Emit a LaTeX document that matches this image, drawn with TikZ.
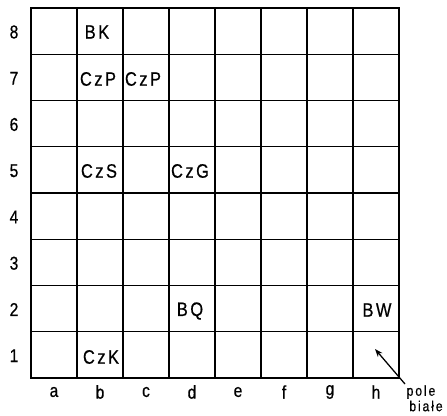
\documentclass[tikz,border=0pt]{standalone}
\usepackage{fontspec}
\setmainfont{Liberation Sans}[FakeStretch=0.84,LetterSpace=13,FakeBold=0.6]
\usetikzlibrary{arrows.meta}
\begin{document}
\begin{tikzpicture}[x=1pt,y=-1pt,
  piece/.style={inner sep=0pt,font=\fontsize{19.5}{19.5}\selectfont},
  coordlbl/.style={inner sep=0pt,font=\fontsize{18.5}{18.5}\selectfont},
  small/.style={inner sep=0pt,font=\fontsize{14.5}{14.5}\selectfont},
  gridline/.style={line width=1.4pt},
  frame/.style={line width=2pt}]
\useasboundingbox (0,0) rectangle (447,415);
% grid
\foreach \i in {1,...,7} {
  \draw[gridline] ({31+46*\i},8) -- ({31+46*\i},378);
  \draw[gridline] (31,{8+46.25*\i}) -- (399,{8+46.25*\i});
}
\draw[frame] (31,8) rectangle (399,378);
% rank labels
\foreach \r in {1,...,8} {
  \node[coordlbl] (rank\r) at (14,{8+46.25*(8-\r)+24}) {\r};
}
% file labels
\foreach \f [count=\i from 0] in {a,b,c,d,e,f,g,h} {
  \node[coordlbl] (file\f) at ({54+46*\i},392) {\f};
}
% pieces
\node[piece] (bk)  at (97,32) {BK};
\node[piece] (czp1) at (98,79) {CzP};
\node[piece] (czp2) at (143,79) {CzP};
\node[piece] (czs) at (99,171) {CzS};
\node[piece] (czg) at (190,171) {CzG};
\node[piece] (bq)  at (190,311) {BQ};
\node[piece] (bw)  at (377,310) {BW};
\node[piece] (czk) at (101,357) {CzK};
% arrow
\coordinate (corner) at (399,377);
\coordinate (lblend) at (405,384);
\coordinate (tip) at (375,349);
\draw[line width=1.3pt,-{Stealth[length=8pt,width=6pt]}] (lblend) -- (corner) -- (tip);
\node[small] (pole) at (421,392) {pole};
\node[small] (biale) at (426,406) {białe};
\end{tikzpicture}
\end{document}
